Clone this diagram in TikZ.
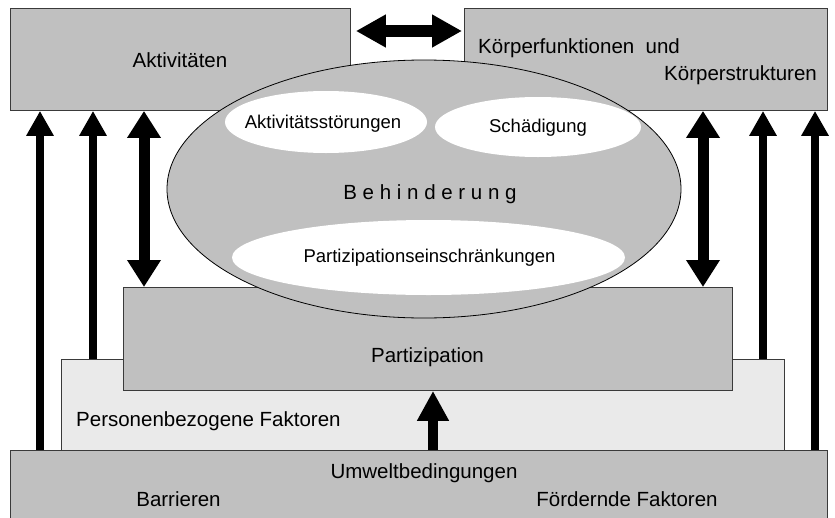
\documentclass[tikz,border=0pt]{standalone}
\usepackage{fontspec}
\setmainfont{Liberation Sans}
\usetikzlibrary{arrows.meta,shapes.geometric,calc}
\definecolor{boxgray}{HTML}{C0C0C0}
\definecolor{persgray}{HTML}{EAEAEA}
\definecolor{edgegray}{HTML}{3A3A3A}
\begin{document}
\begin{tikzpicture}[x=1pt,y=-1pt,
  box/.style={draw=edgegray,line width=0.9pt,fill=boxgray,rectangle,inner sep=0pt,anchor=north west},
  perbox/.style={box,fill=persgray},
  blob/.style={ellipse,inner sep=0pt,fill=white},
  big/.style={font=\fontsize{20.5}{24}\selectfont},
  small/.style={font=\fontsize{18.5}{22}\selectfont},
  uparrow/.style={line width=8pt,-{Triangle[length=25pt,width=26pt]}},
  dblarrow/.style={line width=11pt,{Triangle[length=27pt,width=32pt]}-{Triangle[length=27pt,width=32pt]}},
  midarrow/.style={line width=10pt,-{Triangle[length=30pt,width=30pt]}},
  harrow/.style={line width=12pt,{Triangle[length=30pt,width=31pt]}-{Triangle[length=30pt,width=31pt]}}
]
\useasboundingbox (0,0) rectangle (835,517);
% boxes
\node[box,minimum width=817pt,minimum height=70pt] (umw) at (10,450) {};
\node[perbox,minimum width=723pt,minimum height=91pt] (pers) at (61,359) {};
\node[box,minimum width=609pt,minimum height=103pt] (part) at (123,287) {};
\node[box,minimum width=340pt,minimum height=102pt] (akt) at (10,8) {};
\node[box,minimum width=363pt,minimum height=102pt] (koerp) at (464,8) {};
% ellipse
\node[ellipse,draw=black,line width=0.8pt,fill=boxgray,inner sep=0pt,minimum width=514pt,minimum height=258pt] (beh) at (424,189) {};
\node[blob,minimum width=202pt,minimum height=62pt] (stor) at (326,122) {};
\node[blob,minimum width=206pt,minimum height=60pt] (schad) at (538,127) {};
\node[blob,minimum width=393pt,minimum height=75pt] (pein) at (428.5,257.5) {};
% texts
\node[big] (takt) at (180,60) {Aktivitäten};
\node[big,anchor=west,inner sep=0pt] (tk1) at (478,48) {Körperfunktionen\ \ und};
\node[big,anchor=west,inner sep=0pt] (tk2) at (664,75) {Körperstrukturen};
\node[small] (tstor) at (323,124) {Aktivitätsstörungen};
\node[small] (tschad) at (538,128) {Schädigung};
\node[big] (tbeh) at (430,194) {B e h i n d e r u n g};
\node[small] (tpein) at (429.5,258) {Partizipationseinschränkungen};
\node[big] (tpart) at (427.5,357) {Partizipation};
\node[big,anchor=west,inner sep=0pt] (tpers) at (76,421) {Personenbezogene Faktoren};
\node[big] (tumw) at (424,473) {Umweltbedingungen};
\node[big] (tbar) at (178.5,499) {Barrieren};
\node[big] (tford) at (627,499) {Fördernde Faktoren};
% arrow x positions
\coordinate (x1) at (40,0);
\coordinate (x2) at (93,0);
\coordinate (x3) at (144,0);
\coordinate (x4) at (703,0);
\coordinate (x5) at (763,0);
\coordinate (x6) at (815,0);
\coordinate (x7) at (433,0);
% arrows
\draw[uparrow] (umw.north -| x1) -- (akt.south -| x1);
\draw[uparrow] (pers.north -| x2) -- (akt.south -| x2);
\draw[dblarrow] (akt.south -| x3) -- (part.north -| x3);
\draw[dblarrow] (koerp.south -| x4) -- (part.north -| x4);
\draw[uparrow] (pers.north -| x5) -- (koerp.south -| x5);
\draw[uparrow] (umw.north -| x6) -- (koerp.south -| x6);
\draw[midarrow] (umw.north -| x7) -- (part.south -| x7);
\draw[harrow] ([xshift=5pt,yshift=-23pt]akt.north east) -- ([xshift=-2pt,yshift=-23pt]koerp.north west);
\end{tikzpicture}
\end{document}
